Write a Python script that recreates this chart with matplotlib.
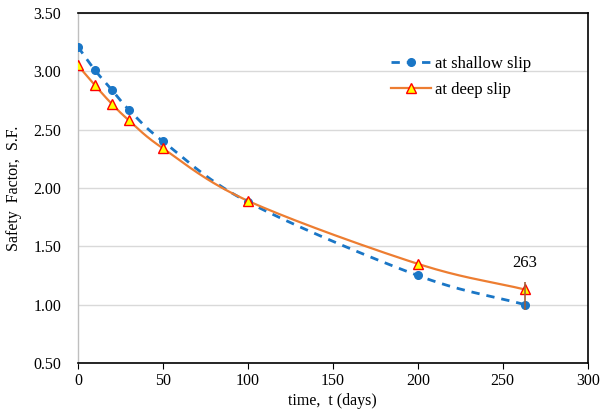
import matplotlib.pyplot as plt
import numpy as np

plt.rcParams['font.family'] = ['Liberation Serif', 'DejaVu Serif']

# data
t_days = [0, 10, 20, 30, 50, 100, 200, 263]
sf_shallow = [3.21, 3.01, 2.84, 2.67, 2.40, 1.88, 1.25, 1.00]
sf_deep = [3.05, 2.88, 2.72, 2.58, 2.34, 1.89, 1.35, 1.13]
marker_range = [0.95, 1.19]
xticks = [0, 50, 100, 150, 200, 250, 300]
yticks = [0.5, 1.0, 1.5, 2.0, 2.5, 3.0, 3.5]


def smooth(x, y, n=30):
    # Excel-style smoothed line (Catmull-Rom through the points)
    x = np.asarray(x, float)
    y = np.asarray(y, float)
    px = np.concatenate([[2 * x[0] - x[1]], x, [2 * x[-1] - x[-2]]])
    py = np.concatenate([[2 * y[0] - y[1]], y, [2 * y[-1] - y[-2]]])
    xs, ys = [], []
    s = np.linspace(0, 1, n)
    for i in range(1, len(px) - 2):
        for p, out in ((px, xs), (py, ys)):
            p0, p1, p2, p3 = p[i - 1], p[i], p[i + 1], p[i + 2]
            out.extend(0.5 * (2 * p1 + (-p0 + p2) * s
                              + (2 * p0 - 5 * p1 + 4 * p2 - p3) * s ** 2
                              + (-p0 + 3 * p1 - 3 * p2 + p3) * s ** 3))
    return np.array(xs), np.array(ys)


fig = plt.figure(figsize=(6.04, 4.18), dpi=100)
ax = fig.add_axes([0.129, 0.1316, 0.844, 0.8374])

blue = '#1a76c6'
orange = '#ED7D31'

xs, ys = smooth(t_days, sf_shallow)
ax.plot(xs, ys, color=blue, lw=2, ls=(0, (3, 2.5)), zorder=3)
ax.plot(t_days, sf_shallow, 'o', color=blue, ms=5.5, zorder=4)
ax.plot([], [], color=blue, lw=2, ls=(0, (3, 2.5)), marker='o', ms=5.5,
        label='at shallow slip')

xs, ys = smooth(t_days, sf_deep)
ax.plot(xs, ys, color=orange, lw=1.6, zorder=3)
ax.plot(t_days, sf_deep, '^', color=orange, mfc='#FFFF00', mec='#FF0000',
        mew=1, ms=7.5, zorder=5)
ax.plot([], [], color=orange, lw=1.6, marker='^', mfc='#FFFF00',
        mec='#FF0000', mew=1, ms=7.5, label='at deep slip')

ax.vlines(t_days[-1], marker_range[0], marker_range[1], color='#a0603a',
          lw=1.2, zorder=6)
ax.text(t_days[-1], 1.36, '263', ha='center', va='center', fontsize=12)

ax.set_xlim(0, 300)
ax.set_ylim(0.5, 3.5)
ax.set_xticks(xticks)
ax.set_yticks(yticks)
ax.set_yticklabels([f'{v:.2f}' for v in yticks])
ax.tick_params(axis='x', direction='out', length=4, labelsize=11.5, pad=3)
ax.tick_params(axis='y', length=0, labelsize=11.5, pad=12)
ax.grid(axis='y', color='#d9d9d9', lw=1)
ax.set_axisbelow(True)
for side in ('top', 'right', 'bottom'):
    ax.spines[side].set_color('black')
    ax.spines[side].set_linewidth(1.2)
ax.spines['left'].set_color('#bfbfbf')
ax.spines['left'].set_linewidth(1)

ax.set_xlabel('time,  t (days)', fontsize=11.5, labelpad=3)
ax.set_ylabel('Safety  Factor,  S.F.', fontsize=11.5, labelpad=8)

ax.legend(loc='upper left', bbox_to_anchor=(0.585, 0.92), frameon=False,
          fontsize=12, handlelength=2.4, handletextpad=0.25, labelspacing=0.6)

fig.savefig('out.png', dpi=100)
